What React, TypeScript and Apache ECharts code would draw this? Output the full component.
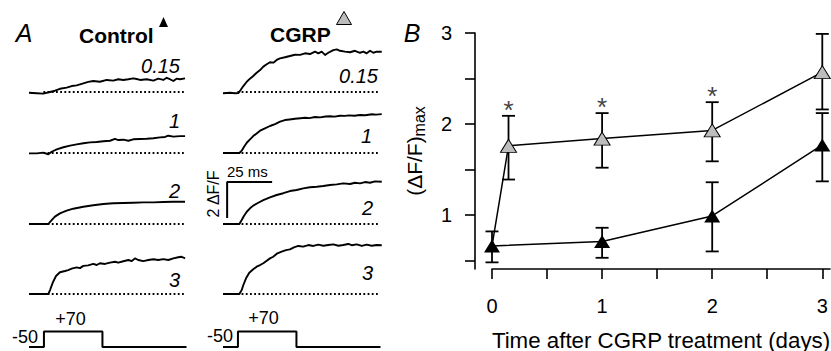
import React, { useEffect, useRef } from 'react';
import * as echarts from 'echarts';

const FONT = '"Liberation Sans", Arial, Helvetica, sans-serif';

// ---------- Panel A: fluorescence traces, [time (ms), ΔF/F] ----------
const ctrlTrace015 = [[0,-0.04],[4.3,-0.07],[7.9,-0.09],[11.7,0],[14.4,0.07],[17.2,0.18],[20.9,0.24],[23.7,0.33],[26.5,0.37],[30.2,0.48],[32.9,0.56],[35.7,0.61],[39.4,0.57],[43.2,0.67],[46.8,0.63],[49.6,0.71],[52.4,0.67],[55.2,0.71],[57.9,0.76],[59.8,0.72],[61.7,0.67],[65.4,0.71],[69.1,0.63],[71.8,0.74],[74.6,0.67],[76.5,0.79],[78.3,0.71],[80.2,0.61],[82.0,0.74],[83.9,0.71],[86.7,0.76]];
const ctrlTrace1 = [[0,-0.02],[4.3,-0.02],[7.9,0.02],[10.7,-0.07],[12.6,0.07],[15.4,0.2],[19.1,0.32],[22.8,0.41],[26.5,0.48],[30.2,0.54],[33.9,0.59],[37.6,0.61],[41.3,0.65],[45,0.68],[47.8,0.78],[49.6,0.72],[52.4,0.74],[55.2,0.68],[57.9,0.76],[61.7,0.78],[65.4,0.79],[69.1,0.82],[72.8,0.87],[75.6,0.89],[77.4,0.96],[80.2,0.91],[83.9,0.94],[86.7,0.94]];
const ctrlTrace2 = [[0,0],[10.7,0],[12.6,0.22],[14.4,0.41],[17.2,0.59],[20.9,0.74],[24.6,0.85],[30.2,0.96],[35.7,1.04],[41.3,1.11],[46.8,1.15],[52.4,1.17],[57.9,1.18],[63.5,1.2],[69.1,1.2],[74.6,1.22],[80.2,1.24],[86.7,1.24]];
const ctrlTrace3 = [[0,0],[10.7,0],[11.7,0.22],[13.2,0.63],[15,1.0],[17.2,1.21],[20,1.28],[21.8,1.33],[23.7,1.41],[26.5,1.48],[28.3,1.44],[30.2,1.56],[32.9,1.59],[35.7,1.67],[37.6,1.61],[39.4,1.71],[42.2,1.67],[45,1.74],[47.8,1.79],[49.6,1.74],[52.4,1.82],[55.2,1.89],[57.1,1.83],[58.9,1.98],[60.7,1.89],[63.5,1.83],[66.3,1.89],[69.1,1.93],[71.8,1.89],[74.6,1.94],[77.4,1.89],[80.2,1.98],[82.9,2.04],[84.8,2.07],[86.7,1.98]];
const cgrpTrace015 = [[0,-0.07],[3.9,-0.04],[6.7,-0.07],[8.5,-0.06],[9.8,0.11],[11.3,0.33],[13.2,0.57],[15,0.74],[16.8,0.89],[18.7,1.07],[20.6,1.22],[22.4,1.41],[24.3,1.54],[26.1,1.65],[28,1.63],[29.8,1.78],[31.7,1.87],[34.4,1.93],[37.2,2.0],[40,2.07],[42.8,2.06],[45.6,2.15],[48.3,2.11],[51.1,2.24],[53,2.15],[54.8,2.24],[56.7,2.06],[58.5,2.18],[61.3,2.33],[63.2,2.37],[65,2.29],[67.8,2.24],[70.6,2.21],[73.3,2.29],[76.1,2.18],[78,2.24],[79.8,2.15],[81.7,2.29],[83.5,2.18],[85.4,2.24],[88.2,2.24]];
const cgrpTrace1 = [[0,0],[9.1,0],[10.4,0.13],[11.7,0.35],[13.2,0.57],[15,0.76],[16.8,0.94],[18.7,1.09],[20.6,1.24],[23.3,1.37],[26.1,1.5],[28.9,1.61],[31.7,1.74],[34.4,1.83],[37,1.86],[40,1.9],[43,1.93],[45.6,1.96],[48,1.94],[51.1,2.0],[54,1.98],[57,2.03],[59.4,2.04],[62,2.02],[65,2.07],[67.8,2.06],[70,2.09],[73,2.07],[76.1,2.11],[79,2.1],[82.8,2.15],[85,2.13],[88.2,2.16]];
const cgrpTrace2 = [[0,0],[9.1,0],[10.4,0.22],[11.7,0.46],[13.2,0.68],[15,0.87],[16.8,1.02],[19.6,1.18],[22.4,1.33],[26.1,1.48],[29.8,1.61],[33.5,1.71],[37.2,1.83],[40.9,1.89],[44.6,1.98],[48.3,2.04],[52.1,2.07],[55.7,2.11],[59.4,2.17],[63.2,2.2],[66.8,2.26],[70.6,2.22],[73.3,2.29],[76.1,2.26],[78.9,2.33],[81.7,2.29],[84.4,2.37],[88.2,2.35]];
const cgrpTrace3 = [[0,0],[9.1,0],[10.4,0.22],[11.3,0.5],[12.8,0.87],[14.6,1.18],[16.8,1.37],[18.7,1.52],[20.6,1.61],[22.4,1.71],[24.3,1.85],[26.1,1.98],[27.9,2.07],[30.2,2.26],[32.6,2.35],[35,2.44],[37.2,2.48],[39.4,2.59],[41.8,2.67],[44.6,2.63],[47.4,2.72],[50.2,2.67],[52.9,2.74],[55.7,2.68],[58.5,2.72],[61.3,2.76],[64.1,2.68],[66.8,2.72],[69.6,2.78],[71.5,2.71],[74.3,2.76],[77.1,2.67],[79.8,2.74],[82.6,2.68],[85.4,2.72],[88.2,2.71]];
const ctrlTraces = [ctrlTrace015, ctrlTrace1, ctrlTrace2, ctrlTrace3];
const cgrpTraces = [cgrpTrace015, cgrpTrace1, cgrpTrace2, cgrpTrace3];
const traceLabels = ['0.15', '1', '2', '3'];
const groupTitles = ['Control', 'CGRP'];

// dotted zero line, voltage protocol [ms, mV], scale bar (25 ms, 2 ΔF/F)
const baselineSpan = [[8, 0], [87, 0]];
const stepProtocol = [[0, -50], [8.3, -50], [8.3, 70], [40.8, 70], [40.8, -50], [87.5, -50]];
const stepLabels = ['-50', '+70'];
const scaleBar = [[2.3, 0.33], [2.3, 2.33], [27.3, 2.33]];

// ---------- Panel B: (ΔF/F)max vs days ----------
const ctrlDays = [0, 1, 2, 3];
const ctrlMean = [0.66, 0.71, 0.99, 1.77];
const ctrlLow = [0.48, 0.53, 0.60, 1.37];
const ctrlHigh = [0.82, 0.86, 1.36, 2.12];
const cgrpDays = [0.15, 1, 2, 3];
const cgrpMean = [1.76, 1.84, 1.93, 2.57];
const cgrpLow = [1.39, 1.52, 1.59, 2.16];
const cgrpHigh = [2.09, 2.12, 2.24, 2.99];
const cgrpSignif = [1, 1, 1, 0];
const xTicksB = [0, 0.5, 1, 1.5, 2, 2.5, 3];
const xLabelsB = [0, 1, 2, 3];
const yTicksB = [0.5, 1, 1.5, 2, 2.5, 3];
const yLabelsB = [1, 2, 3];

const GRAY = '#bcbcbc';

function buildOption() {
  const COL_LEFT = [29, 223];
  const ROW_BASE = [92, 153, 224, 294];
  const T_MAX = 88.5, PX_MS = 1.8, DF_MIN = -0.5, DF_MAX = 3, PX_DF = 18;
  const grids: any[] = [], xAxes: any[] = [], yAxes: any[] = [], series: any[] = [];
  const graphics: any[] = [];
  const labelPos = [[[180, 66], [180, 121], [180, 191], [180, 280]], [[378, 76], [372, 136], [373, 208], [373, 273]]];

  [ctrlTraces, cgrpTraces].forEach((traces, c) => {
    traces.forEach((tr, r) => {
      const gi = grids.length;
      grids.push({ left: COL_LEFT[c], top: ROW_BASE[r] - DF_MAX * PX_DF, width: T_MAX * PX_MS, height: (DF_MAX - DF_MIN) * PX_DF, outerBoundsMode: 'none', containLabel: false });
      xAxes.push({ gridIndex: gi, type: 'value', min: 0, max: T_MAX, show: false });
      yAxes.push({ gridIndex: gi, type: 'value', min: DF_MIN, max: DF_MAX, show: false });
      series.push({ type: 'line', xAxisIndex: gi, yAxisIndex: gi, data: baselineSpan, symbol: 'none', silent: true,
        lineStyle: { color: '#000', width: 1.8, type: [1.8, 2.4] } });
      series.push({ type: 'line', xAxisIndex: gi, yAxisIndex: gi, data: tr, symbol: 'none', silent: true, clip: false,
        lineStyle: { color: '#000', width: 1.9, join: 'round' } });
      if (c === 1 && r === 2) {
        series.push({ type: 'line', xAxisIndex: gi, yAxisIndex: gi, data: scaleBar, symbol: 'none', silent: true, clip: false,
          lineStyle: { color: '#000', width: 2 } });
      }
      const [lx, ly] = labelPos[c][r];
      graphics.push({ type: 'text', x: lx, y: ly, style: { text: traceLabels[r], fontFamily: FONT, fontSize: 20, fontStyle: 'italic', fill: '#000', align: 'right', verticalAlign: 'middle' } });
    });
  });

  // voltage step grids
  [0, 1].forEach((c) => {
    const gi = grids.length;
    grids.push({ left: COL_LEFT[c], top: 331.5, width: T_MAX * PX_MS, height: 15.5, outerBoundsMode: 'none', containLabel: false });
    xAxes.push({ gridIndex: gi, type: 'value', min: 0, max: T_MAX, show: false });
    yAxes.push({ gridIndex: gi, type: 'value', min: -50, max: 70, show: false });
    series.push({ type: 'line', xAxisIndex: gi, yAxisIndex: gi, data: stepProtocol, symbol: 'none', silent: true, clip: false,
      lineStyle: { color: '#000', width: 2 } });
  });
  const stepTextPos = [[[25, 337], [70.5, 319]], [[220, 336], [263.5, 318]]];
  stepTextPos.forEach((col) => col.forEach(([x, y], i) => {
    graphics.push({ type: 'text', x, y, style: { text: stepLabels[i], fontFamily: FONT, fontSize: 18, fill: '#000', align: 'center', verticalAlign: 'middle' } });
  }));

  // panel B grid
  const gB = grids.length;
  grids.push({ left: 492, top: 33, width: 338, height: 236, outerBoundsMode: 'none', containLabel: false });
  xAxes.push({
    gridIndex: gB, type: 'value', min: 0, max: 3.07,
    axisLine: { show: true, onZero: false, lineStyle: { color: '#000', width: 1.6 } },
    axisTick: { show: true, length: 10, lineStyle: { color: '#000', width: 1.6 }, customValues: xTicksB },
    axisLabel: { customValues: xLabelsB, margin: 27, fontSize: 20, fontFamily: FONT, color: '#000' },
    splitLine: { show: false },
    name: 'Time after CGRP treatment (days)', nameLocation: 'middle', nameGap: 60,
    nameTextStyle: { fontSize: 22.3, fontFamily: FONT, color: '#000' },
  });
  yAxes.push({
    gridIndex: gB, type: 'value', min: 0.407, max: 3, offset: 17,
    axisLine: { show: true, onZero: false, lineStyle: { color: '#000', width: 1.6 } },
    axisTick: { show: true, length: 10, lineStyle: { color: '#000', width: 1.6 }, customValues: yTicksB },
    axisLabel: { customValues: yLabelsB, margin: 23, fontSize: 20, fontFamily: FONT, color: '#000' },
    splitLine: { show: false },
    name: '{a|(ΔF/F)}{b|max}', nameLocation: 'middle', nameRotate: 90, nameGap: 48,
    nameTextStyle: {
      color: '#000',
      rich: {
        a: { fontSize: 21, fontFamily: FONT, color: '#000', lineHeight: 26, verticalAlign: 'middle' },
        b: { fontSize: 16, fontFamily: FONT, color: '#000', lineHeight: 15, verticalAlign: 'bottom' },
      },
    },
  });

  const errRender = (params: any, api: any) => {
    const x = api.value(0), lo = api.value(1), hi = api.value(2), star = api.value(3);
    const p1 = api.coord([x, lo]);
    const p2 = api.coord([x, hi]);
    const cw = 6.5;
    const st = { stroke: '#000', lineWidth: 1.8 };
    const children: any[] = [
      { type: 'line', shape: { x1: p1[0], y1: p1[1], x2: p2[0], y2: p2[1] }, style: st },
      { type: 'line', shape: { x1: p1[0] - cw, y1: p1[1], x2: p1[0] + cw, y2: p1[1] }, style: st },
      { type: 'line', shape: { x1: p2[0] - cw, y1: p2[1], x2: p2[0] + cw, y2: p2[1] }, style: st },
    ];
    if (star) {
      children.push({ type: 'text', x: p2[0], y: p2[1] - 6, style: { text: '*', fontFamily: FONT, fontSize: 26, fill: '#444', align: 'center', verticalAlign: 'middle' } });
    }
    return { type: 'group', children };
  };

  series.push({
    type: 'custom', name: 'ctrlErr', xAxisIndex: gB, yAxisIndex: gB, z: 1, silent: true,
    data: ctrlDays.map((d, i) => [d, ctrlLow[i], ctrlHigh[i], 0]),
    renderItem: errRender,
  });
  series.push({
    type: 'custom', name: 'cgrpErr', xAxisIndex: gB, yAxisIndex: gB, z: 1, silent: true,
    data: cgrpDays.map((d, i) => [d, cgrpLow[i], cgrpHigh[i], cgrpSignif[i]]),
    renderItem: errRender,
  });
  series.push({
    type: 'line', name: groupTitles[0], xAxisIndex: gB, yAxisIndex: gB, z: 3, silent: true,
    data: ctrlDays.map((d, i) => [d, ctrlMean[i]]),
    symbol: 'triangle', symbolSize: [16, 13],
    itemStyle: { color: '#000', borderWidth: 0 },
    lineStyle: { color: '#000', width: 1.5 },
  });
  series.push({
    type: 'line', name: groupTitles[1], xAxisIndex: gB, yAxisIndex: gB, z: 4, silent: true,
    data: [{ value: [ctrlDays[0], ctrlMean[0]], symbol: 'none' }, ...cgrpDays.map((d, i) => [d, cgrpMean[i]])],
    symbol: 'triangle', symbolSize: [16, 13],
    itemStyle: { color: GRAY, borderColor: '#000', borderWidth: 1 },
    lineStyle: { color: '#000', width: 1.5 },
  });

  graphics.push({ type: 'text', x: 24, y: 33, style: { text: 'A', fontFamily: FONT, fontSize: 25, fontStyle: 'italic', fill: '#000', align: 'center', verticalAlign: 'middle' } });
  graphics.push({ type: 'text', x: 412, y: 33, style: { text: 'B', fontFamily: FONT, fontSize: 25, fontStyle: 'italic', fill: '#000', align: 'center', verticalAlign: 'middle' } });
  graphics.push({ type: 'text', x: 79, y: 35, style: { text: groupTitles[0], fontFamily: FONT, fontSize: 21, fontWeight: 'bold', fill: '#000', align: 'left', verticalAlign: 'middle' } });
  graphics.push({ type: 'text', x: 270, y: 34, style: { text: groupTitles[1], fontFamily: FONT, fontSize: 21, fontWeight: 'bold', fill: '#000', align: 'left', verticalAlign: 'middle' } });
  graphics.push({ type: 'text', x: 227, y: 171, style: { text: '25 ms', fontFamily: FONT, fontSize: 15, fill: '#000', align: 'left', verticalAlign: 'middle' } });
  graphics.push({ type: 'text', x: 213, y: 194, rotation: Math.PI / 2, style: { text: '2 ΔF/F', fontFamily: FONT, fontSize: 16, fill: '#000', align: 'center', verticalAlign: 'middle' } });

  const noText = () => '';
  return {
    animation: false,
    backgroundColor: '#fff',
    grid: grids,
    xAxis: xAxes,
    yAxis: yAxes,
    series,
    graphic: graphics,
    legend: [
      { data: [groupTitles[0]], left: 159, top: 17, icon: 'triangle', itemWidth: 9, itemHeight: 10, itemGap: 0, padding: 0, selectedMode: false,
        formatter: noText, itemStyle: { borderWidth: 0 }, textStyle: { fontSize: 1, lineHeight: 1 } },
      { data: [groupTitles[1]], left: 336, top: 11, icon: 'triangle', itemWidth: 15, itemHeight: 13, itemGap: 0, padding: 0, selectedMode: false,
        formatter: noText, itemStyle: { borderWidth: 1, borderColor: '#000' }, textStyle: { fontSize: 1, lineHeight: 1 } },
    ],
  };
}

export default function App() {
  const ref = useRef<HTMLDivElement>(null);
  useEffect(() => {
    const chart = echarts.init(ref.current!, null, { renderer: 'svg' });
    chart.setOption(buildOption() as any);
    return () => chart.dispose();
  }, []);
  return <div ref={ref} style={{ position: 'absolute', left: 0, top: 0, width: 831, height: 351, background: '#fff' }} />;
}
